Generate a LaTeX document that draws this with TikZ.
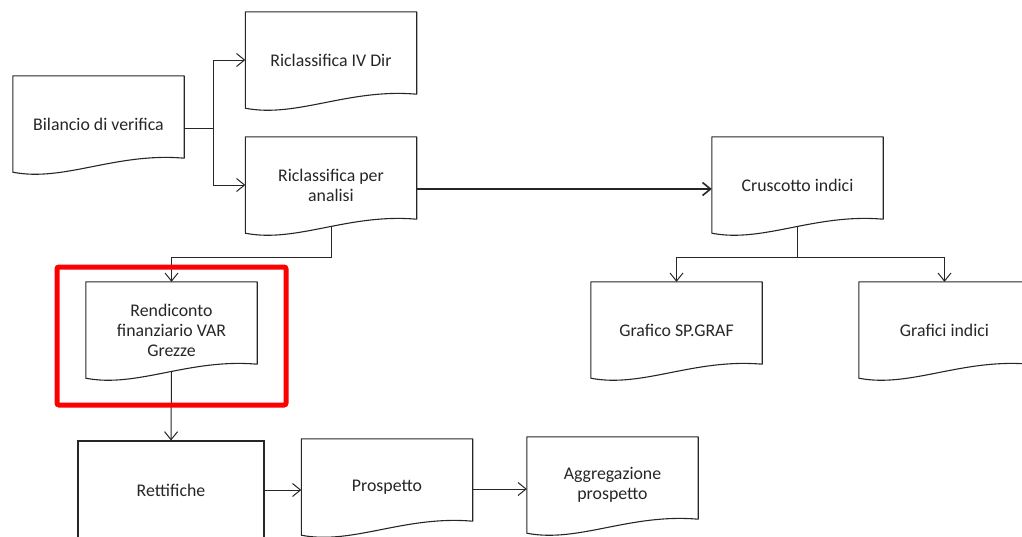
\documentclass[tikz,border=0pt]{standalone}
\usepackage{fontspec}
\setmainfont{Carlito}
\usetikzlibrary{arrows.meta,calc}

% document shape: box with a wavy bottom edge
\newcommand{\docoutline}[1]{%
  \draw[outline] (#1.south west) -- (#1.north west) -- (#1.north east)
    -- ([yshift=14pt]#1.south east)
    .. controls ($(#1.south west)!0.6!(#1.south east)+(0pt,20pt)$)
    and ($(#1.south west)!0.3!(#1.south east)+(0pt,-10pt)$) .. (#1.south west) -- cycle;}

\begin{document}
\begin{tikzpicture}[
  x=1pt, y=-1pt,
  font=\fontsize{17.8}{20}\selectfont,
  doc/.style={minimum width=171pt, minimum height=96pt, inner sep=0pt, align=center, text=black!85},
  procbox/.style={draw=black!85, line width=1.1pt, minimum width=186pt, minimum height=98pt, inner sep=0pt, align=center, text=black!85},
  outline/.style={draw=black!85, line width=1.1pt, line join=round},
  wire/.style={draw=black!85, line width=1pt},
  conn/.style={wire, -{Straight Barb[length=8pt,width=13pt]}},
  highlight/.style={draw=red, line width=5pt, rounded corners=2pt}
]
\useasboundingbox (0,0) rectangle (1022,536);
\clip (0,0) rectangle (1022,536);

\node[doc] (bil) at (98.5,124) {Bilancio di verifica};
\node[doc] (ric4) at (331,60) {Riclassifica IV Dir};
\node[doc] (ricana) at (331,185) {Riclassifica per\\analisi};
\node[doc] (crus) at (797.5,185) {Cruscotto indici};
\node[doc] (rend) at (171.5,330) {Rendiconto\\finanziario VAR\\Grezze};
\node[doc] (graf) at (676.5,330) {Grafico SP.GRAF};
\node[doc] (grafind) at (944.5,330) {Grafici indici};
\node[procbox] (ret) at (171,490) {Rettifiche};
\node[doc] (pros) at (387,487) {Prospetto};
\node[doc] (aggr) at (612.5,485) {Aggregazione\\prospetto};

\foreach \n in {bil,ric4,ricana,crus,rend,graf,grafind,pros,aggr}
  \docoutline{\n};

% junctions
\coordinate (split) at (213,128);
\coordinate (jl) at (331,257);
\coordinate (jr) at (797.5,257);

\draw[wire] (bil.east |- split) -- (split);
\draw[conn] (split) |- (ric4.west);
\draw[conn] (split) |- (ricana.west);
\draw[conn, line width=1.6pt] ([yshift=-4pt]ricana.east) -- ([yshift=-4pt]crus.west);
\draw[conn] ([yshift=6pt]ricana.south) -- (jl) -| (rend.north);
\draw[wire] ([yshift=6pt]crus.south) -- (jr);
\draw[conn] (jr) -| (graf.north);
\draw[conn] (jr) -| (grafind.north);
\draw[conn] ([yshift=6pt]rend.south) -- (ret.north);
\draw[conn] (ret.east) -- (ret.east -| pros.west);
\draw[conn] ([yshift=-2pt]pros.east) -- ([yshift=-2pt]pros.east -| aggr.west);

\draw[highlight] (57,267) rectangle (286,405);
\end{tikzpicture}
\end{document}
